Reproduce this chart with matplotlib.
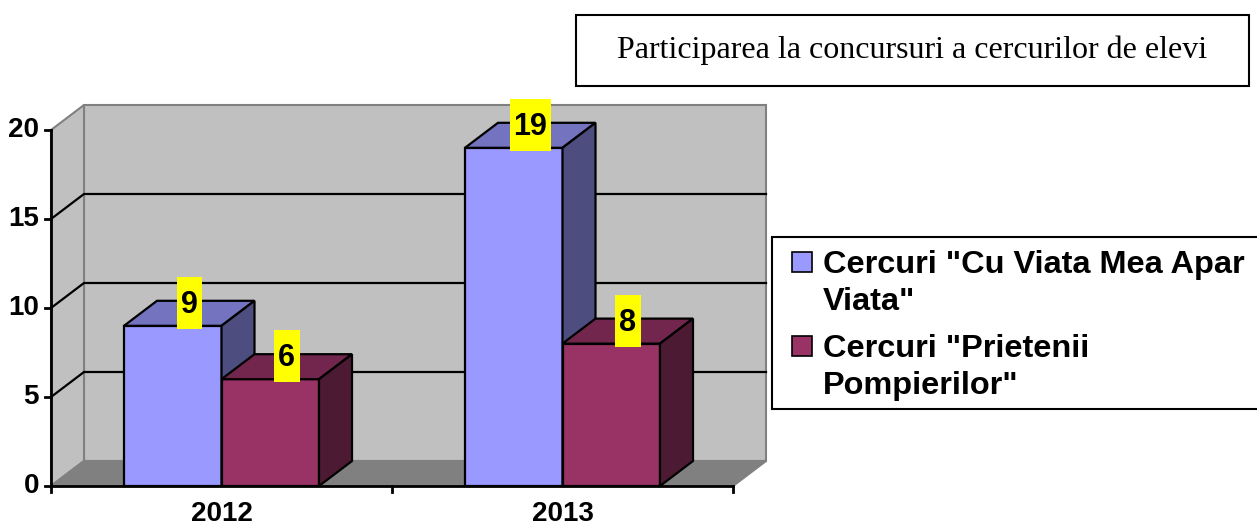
import matplotlib
matplotlib.use("Agg")
import matplotlib.pyplot as plt
from matplotlib.patches import Polygon, Rectangle

# data
years = ["2012", "2013"]
series_names = ['Cercuri "Cu Viata Mea Apar\nViata"', 'Cercuri "Prietenii\nPompierilor"']
values = [[9, 19], [6, 8]]  # one list per series
y_ticks = [0, 5, 10, 15, 20]
title = "Participarea la concursuri a cercurilor de elevi"

front_colors = ["#9999FF", "#993366"]
top_colors = ["#7373BF", "#73264D"]
side_colors = ["#4D4D80", "#4D1A33"]

W, H = 1257, 527
fig = plt.figure(figsize=(W / 100, H / 100), dpi=100)
ax = fig.add_axes([0, 0, 1, 1])
ax.axis("off")

# map categories / values onto the picture (category band = 341 px, 1 unit = 17.8 px)
px_cat = 341.0
px_val = 17.8
x_origin = 51    # pixel x of left edge of first category
y_origin = 486   # pixel y of value 0
ax.set_xlim(-0.5 - x_origin / px_cat, -0.5 + (W - x_origin) / px_cat)
ax.set_ylim(-(H - y_origin) / px_val, y_origin / px_val)

# depth offset of the 3d effect, in data units
dx = 33 / px_cat
dy = 25 / px_val

x0, x1 = -0.5, len(years) - 0.5
ymax = y_ticks[-1]
wall_edge = "#808080"

# back wall, side wall and floor
ax.add_patch(Polygon([(x0 + dx, dy), (x1 + dx, dy), (x1 + dx, ymax + dy), (x0 + dx, ymax + dy)],
                     closed=True, fc="#C0C0C0", ec=wall_edge, lw=1.5))
ax.add_patch(Polygon([(x0, 0), (x0 + dx, dy), (x0 + dx, ymax + dy), (x0, ymax)],
                     closed=True, fc="#C0C0C0", ec=wall_edge, lw=1.5))
ax.add_patch(Polygon([(x0, 0), (x1, 0), (x1 + dx, dy), (x0 + dx, dy)],
                     closed=True, fc="#808080", ec=wall_edge, lw=1.5))

# gridlines on the walls
for v in y_ticks[1:-1]:
    ax.plot([x0, x0 + dx, x1 + dx], [v, v + dy, v + dy], color="black", lw=1.6)

# axes lines and ticks
ax.plot([x0, x0], [0, ymax], color="black", lw=2)
ax.plot([x0, x1], [0, 0], color="black", lw=2)
tick_w = 6 / px_cat
tick_h = 6 / px_val
for v in y_ticks:
    ax.plot([x0 - tick_w, x0], [v, v], color="black", lw=2)
    ax.text(x0 - 12 / px_cat, v, str(v), ha="right", va="center",
            fontsize=20, fontweight="bold", family="Liberation Sans")
for k in range(len(years) + 1):
    ax.plot([x0 + k, x0 + k], [0, -tick_h], color="black", lw=2)
for i, yr in enumerate(years):
    ax.text(i, -(521 - y_origin) / px_val, yr, ha="center", va="baseline", fontsize=20,
            fontweight="bold", family="Liberation Sans")

# bars
bar_w = 97.5 / px_cat
n_ser = len(values)
for j in range(n_ser):
    for i, v in enumerate(values[j]):
        left = i - n_ser * bar_w / 2 + j * bar_w
        right = left + bar_w
        ax.add_patch(Polygon([(left, 0), (right, 0), (right, v), (left, v)], closed=True,
                             fc=front_colors[j], ec="black", lw=1.6, zorder=3 + j))
        ax.add_patch(Polygon([(left, v), (right, v), (right + dx, v + dy), (left + dx, v + dy)],
                             closed=True, fc=top_colors[j], ec="black", lw=1.6, zorder=3 + j))
        ax.add_patch(Polygon([(right, 0), (right + dx, dy), (right + dx, v + dy), (right, v)],
                             closed=True, fc=side_colors[j], ec="black", lw=1.6, zorder=3 + j))

# value labels on yellow boxes
for j in range(n_ser):
    for i, v in enumerate(values[j]):
        cx = i - n_ser * bar_w / 2 + (j + 0.5) * bar_w + dx / 2
        cy = v + 23 / px_val
        txt = str(v)
        bw = (15.5 * len(txt) + 10) / px_cat
        bh = 52 / px_val
        ax.add_patch(Rectangle((cx - bw / 2, cy - bh / 2), bw, bh, fc="#FFFF00", ec="none",
                               zorder=10))
        ax.text(cx, cy - 10 / px_val, txt, ha="center", va="baseline", fontsize=22,
                fontweight="bold", family="Liberation Sans", zorder=11)


def fx(px):
    return px / W


def fy(py):
    return 1 - py / H


# title box
fig.patches.append(Rectangle((fx(576), fy(86)), fx(1249) - fx(576), fy(15) - fy(86),
                             transform=fig.transFigure, fc="white", ec="black", lw=1.5))
fig.text(fx(912), fy(58), title, ha="center", va="baseline", fontsize=23,
         family="Liberation Serif")

# legend
fig.patches.append(Rectangle((fx(772), fy(409)), fx(1300) - fx(772), fy(237) - fy(409),
                             transform=fig.transFigure, fc="white", ec="black", lw=1.5))
leg_tops = [252, 336]
leg_base = [273, 357]
line_gap = 37
for j, name in enumerate(series_names):
    top = leg_tops[j]
    fig.patches.append(Rectangle((fx(792), fy(top + 20)), fx(20), fy(0) - fy(20),
                                 transform=fig.transFigure, fc=front_colors[j], ec="black",
                                 lw=1.2))
    for k, line in enumerate(name.split("\n")):
        fig.text(fx(823), fy(leg_base[j] + k * line_gap), line, ha="left", va="baseline",
                 fontsize=23.4, fontweight="bold", family="Liberation Sans")

fig.savefig("out.png", dpi=100)
